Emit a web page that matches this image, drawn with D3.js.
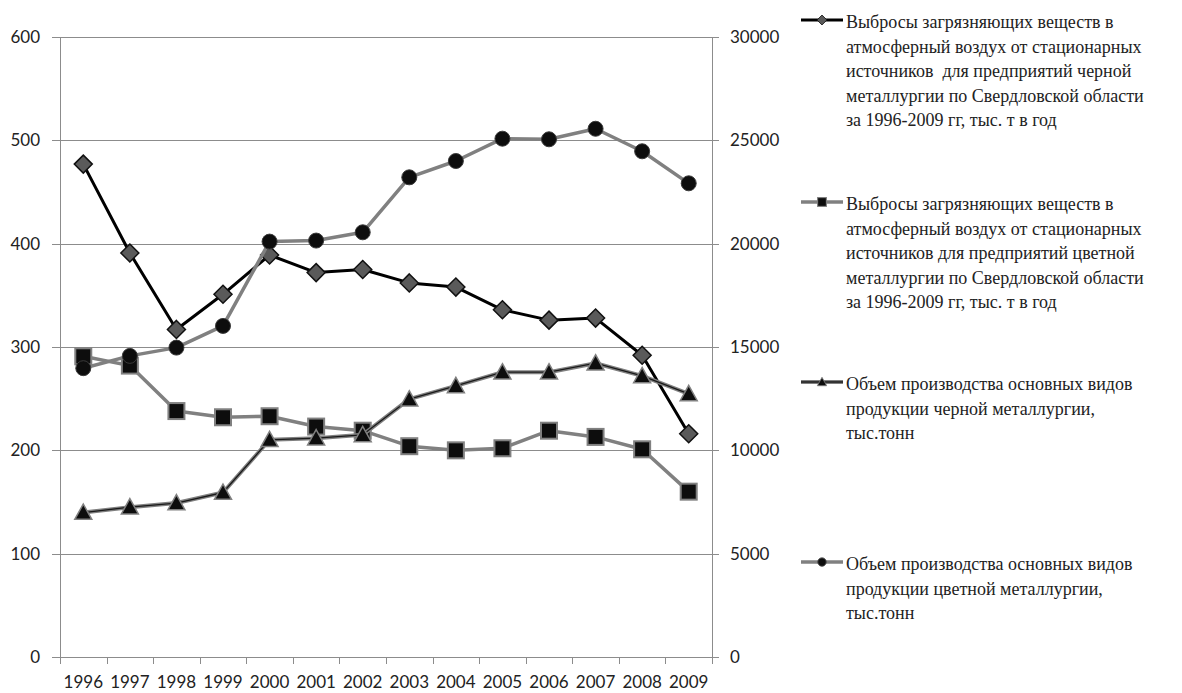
<!DOCTYPE html>
<html>
<head>
<meta charset="utf-8">
<script src="https://cdn.jsdelivr.net/npm/d3@7"></script>
<style>
  body { margin: 0; background: #fff; }
  svg { display: block; }
  .axis-label { font-family: Lato, "Open Sans", sans-serif; font-size: 17px; fill: #222; }
  .legend-text { font-family: "Liberation Serif", "Times New Roman", serif; font-size: 18px; fill: #222; white-space: pre; }
</style>
</head>
<body>
<div id="chart"></div>
<script>
// years on the x axis
const years = ["1996", "1997", "1998", "1999", "2000", "2001", "2002", "2003", "2004", "2005", "2006", "2007", "2008", "2009"];

// left axis: emissions, thousand t per year
const emissionsFerrous = [477, 391, 317, 351, 389, 372, 375, 362, 358, 336, 326, 328, 292, 216];
const emissionsNonFerrous = [291, 282, 238, 232, 233, 223, 219, 204, 200, 202, 219, 213, 201, 160];

// right axis: production, thousand tonnes
const productionFerrous = [6990, 7250, 7450, 7960, 10510, 10590, 10750, 12475, 13120, 13780, 13780, 14215, 13600, 12730];
const productionNonFerrous = [13975, 14570, 14970, 16020, 20100, 20150, 20550, 23210, 24000, 25080, 25050, 25560, 24470, 22920];

const leftTicks = [0, 100, 200, 300, 400, 500, 600];
const rightTicks = [0, 5000, 10000, 15000, 20000, 25000, 30000];

const legendLabels = [
    ["Выбросы загрязняющих веществ в", "атмосферный воздух от стационарных", "источников  для предприятий черной", "металлургии по Свердловской области", "за 1996-2009 гг, тыс. т в год"],
    ["Выбросы загрязняющих веществ в", "атмосферный воздух от стационарных", "источников для предприятий цветной", "металлургии по Свердловской области", "за 1996-2009 гг, тыс. т в год"],
    ["Объем производства основных видов", "продукции черной металлургии,", "тыс.тонн"],
    ["Объем производства основных видов", "продукции цветной металлургии,", "тыс.тонн"]
];

const width = 1182, height = 693;
const plot = { left: 60, right: 712, top: 37, bottom: 657 };

const svg = d3.select("#chart").append("svg")
    .attr("width", width)
    .attr("height", height);

const x = d3.scaleBand().domain(years).range([plot.left, plot.right]);
const yLeft = d3.scaleLinear().domain([0, 600]).range([plot.bottom, plot.top]);
const yRight = d3.scaleLinear().domain([0, 30000]).range([plot.bottom, plot.top]);

const gridColor = "#8c8c8c";

// gridlines (with left ticks)
svg.append("g")
    .selectAll("line")
    .data(leftTicks)
    .join("line")
    .attr("x1", plot.left - 8)
    .attr("x2", plot.right)
    .attr("y1", d => Math.round(yLeft(d)) + 0.5)
    .attr("y2", d => Math.round(yLeft(d)) + 0.5)
    .attr("stroke", gridColor)
    .attr("stroke-width", 1);

// right ticks
svg.append("g")
    .selectAll("line")
    .data(rightTicks)
    .join("line")
    .attr("x1", plot.right)
    .attr("x2", plot.right + 7)
    .attr("y1", d => Math.round(yRight(d)) + 0.5)
    .attr("y2", d => Math.round(yRight(d)) + 0.5)
    .attr("stroke", gridColor);

// axis lines
svg.append("line")
    .attr("x1", plot.left + 0.5).attr("x2", plot.left + 0.5)
    .attr("y1", plot.top).attr("y2", plot.bottom)
    .attr("stroke", gridColor);
svg.append("line")
    .attr("x1", plot.right + 0.5).attr("x2", plot.right + 0.5)
    .attr("y1", plot.top).attr("y2", plot.bottom)
    .attr("stroke", gridColor);

// x ticks at band edges
const edges = years.map(d => x(d)).concat([plot.right]);
svg.append("g")
    .selectAll("line")
    .data(edges)
    .join("line")
    .attr("x1", d => Math.round(d) + 0.5)
    .attr("x2", d => Math.round(d) + 0.5)
    .attr("y1", plot.bottom)
    .attr("y2", plot.bottom + 7)
    .attr("stroke", gridColor);

// tick labels
svg.append("g")
    .selectAll("text")
    .data(leftTicks)
    .join("text")
    .attr("class", "axis-label")
    .attr("x", 40)
    .attr("y", d => yLeft(d))
    .attr("dy", "0.35em")
    .attr("text-anchor", "end")
    .text(d => d);

svg.append("g")
    .selectAll("text")
    .data(rightTicks)
    .join("text")
    .attr("class", "axis-label")
    .attr("x", 730)
    .attr("y", d => yRight(d))
    .attr("dy", "0.35em")
    .text(d => d);

svg.append("g")
    .selectAll("text")
    .data(years)
    .join("text")
    .attr("class", "axis-label")
    .attr("x", d => x(d) + x.bandwidth() / 2)
    .attr("y", 682)
    .attr("dy", "0.35em")
    .attr("text-anchor", "middle")
    .text(d => d);

// series
const cx = (d, i) => x(years[i]) + x.bandwidth() / 2;

const series = [
    { values: emissionsFerrous, y: yLeft, marker: "diamond", lines: [{ color: "#000", w: 3 }], fill: "#5a5a5a", stroke: "#111" },
    { values: emissionsNonFerrous, y: yLeft, marker: "square", lines: [{ color: "#808080", w: 3.5 }], fill: "#0d0d0d", stroke: "#808080" },
    { values: productionFerrous, y: yRight, marker: "triangle", lines: [{ color: "#808080", w: 4 }, { color: "#1a1a1a", w: 1.3 }], fill: "#0d0d0d", stroke: "#808080" },
    { values: productionNonFerrous, y: yRight, marker: "circle", lines: [{ color: "#808080", w: 3.5 }], fill: "#0d0d0d", stroke: "#3a3a3a" }
];

function drawMarker(g, type, px, py, scale, fill, stroke) {
    if (type === "diamond") {
        const r = 9 * scale;
        g.append("path")
            .attr("d", `M${px},${py - r}L${px + r},${py}L${px},${py + r}L${px - r},${py}Z`)
            .attr("fill", fill).attr("stroke", stroke).attr("stroke-width", 1.5 * scale);
    } else if (type === "square") {
        const r = 8 * scale;
        g.append("rect")
            .attr("x", px - r).attr("y", py - r)
            .attr("width", 2 * r).attr("height", 2 * r)
            .attr("fill", fill).attr("stroke", stroke).attr("stroke-width", 2 * scale);
    } else if (type === "triangle") {
        const r = 8.5 * scale;
        g.append("path")
            .attr("d", `M${px},${py - r}L${px + r},${py + r * 0.8}L${px - r},${py + r * 0.8}Z`)
            .attr("fill", fill).attr("stroke", stroke).attr("stroke-width", 1.5 * scale);
    } else {
        g.append("circle")
            .attr("cx", px).attr("cy", py).attr("r", 7.5 * scale)
            .attr("fill", fill).attr("stroke", stroke).attr("stroke-width", 1);
    }
}

series.forEach(s => {
    const g = svg.append("g");
    const line = d3.line()
        .x((d, i) => cx(d, i))
        .y(d => s.y(d));
    s.lines.forEach(l => {
        g.append("path")
            .datum(s.values)
            .attr("d", line)
            .attr("fill", "none")
            .attr("stroke", l.color)
            .attr("stroke-width", l.w)
            .attr("stroke-linejoin", "round");
    });
    s.values.forEach((v, i) => {
        drawMarker(g, s.marker, cx(v, i), s.y(v), 1, s.fill, s.stroke);
    });
});

// legend
const legendY = [20, 202, 382, 562];
const legend = svg.append("g");
series.forEach((s, k) => {
    const ly = legendY[k];
    const g = legend.append("g");
    s.lines.forEach(l => {
        g.append("line")
            .attr("x1", 801).attr("x2", 843)
            .attr("y1", ly).attr("y2", ly)
            .attr("stroke", l.color)
            .attr("stroke-width", l.w);
    });
    drawMarker(g, s.marker, 822, ly, 0.55, s.fill, s.stroke);
    g.selectAll("text")
        .data(legendLabels[k])
        .join("text")
        .attr("class", "legend-text")
        .attr("x", 846)
        .attr("y", (d, i) => ly + 8 + i * 24.5)
        .text(d => d);
});
</script>
</body>
</html>
